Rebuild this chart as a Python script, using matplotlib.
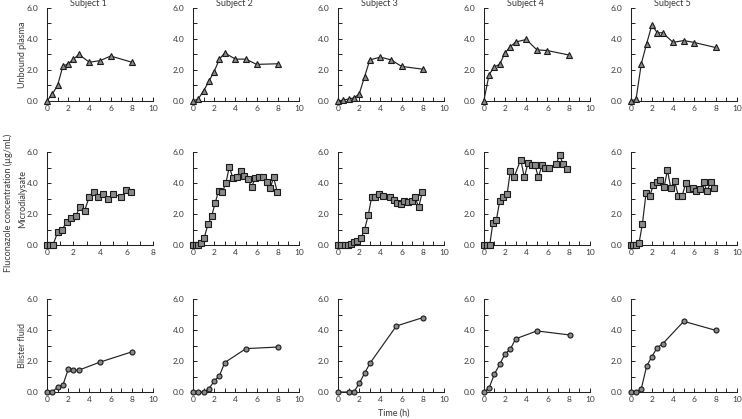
import numpy as np
import matplotlib
matplotlib.use('Agg')
import matplotlib.pyplot as plt

plt.rcParams['font.family'] = ['Lato', 'DejaVu Sans']

## data ##
subjects = ['Subject 1', 'Subject 2', 'Subject 3', 'Subject 4', 'Subject 5']

# unbound plasma
t_plasma = [0, 0.5, 1, 1.5, 2, 2.5, 3, 4, 5, 6, 8]
plasma_s1 = [0, 0.45, 1.0, 2.25, 2.4, 2.7, 3.0, 2.5, 2.6, 2.9, 2.5]
plasma_s2 = [0, 0.13, 0.65, 1.26, 1.9, 2.7, 3.1, 2.7, 2.7, 2.36, 2.4]
plasma_s3 = [0, 0.06, 0.13, 0.2, 0.45, 1.55, 2.65, 2.83, 2.65, 2.23, 2.05]
plasma_s4 = [0, 1.7, 2.2, 2.37, 3.1, 3.5, 3.8, 3.97, 3.3, 3.25, 2.97]
plasma_s5 = [0, 0.1, 2.4, 3.7, 4.9, 4.4, 4.4, 3.78, 3.9, 3.77, 3.45]

# microdialysate
t_md_s1 = [0, 0.22, 0.45, 0.8, 1.14, 1.49, 1.81, 2.16, 2.46, 2.83, 3.18, 3.53, 3.88, 4.22, 4.6, 4.97, 5.6, 5.96, 6.3]
md_s1 = [0, 0, 0, 0.82, 0.99, 1.5, 1.72, 1.85, 2.43, 2.2, 3.1, 3.42, 3.08, 3.29, 2.97, 3.31, 3.1, 3.53, 3.4]
t_md_s2 = [0, 0.25, 0.5, 0.72, 1.07, 1.42, 1.76, 2.1, 2.42, 2.77, 3.1, 3.43, 3.77, 4.12, 4.5, 4.84, 5.19, 5.53, 5.88, 6.23, 6.6, 6.95, 7.3, 7.6, 7.96]
md_s2 = [0, 0, 0, 0.13, 0.49, 1.35, 1.85, 2.73, 3.5, 3.42, 3.98, 5.05, 4.32, 4.41, 4.8, 4.45, 4.24, 3.76, 4.32, 4.37, 4.39, 4.09, 3.7, 4.37, 3.4]
t_md_s3 = [0, 0.31, 0.63, 0.94, 1.22, 1.5, 1.82, 2.16, 2.5, 2.85, 3.17, 3.5, 3.86, 4.2, 4.92, 5.27, 5.6, 5.92, 6.24, 6.58, 6.93, 7.27, 7.6, 7.96]
md_s3 = [0, 0, 0, 0, 0.06, 0.19, 0.28, 0.45, 0.98, 1.93, 3.08, 3.08, 3.27, 3.16, 3.08, 2.9, 2.74, 2.65, 2.87, 2.76, 2.82, 3.1, 2.44, 3.44]
t_md_s4 = [0, 0.28, 0.56, 0.85, 1.19, 1.5, 1.85, 2.2, 2.5, 2.85, 3.48, 3.82, 4.17, 4.5, 4.83, 5.14, 5.49, 5.8, 6.14, 6.83, 7.15, 7.46, 7.8]
md_s4 = [0, 0, 0, 1.41, 1.63, 2.85, 3.13, 3.3, 4.77, 4.37, 5.52, 4.37, 5.29, 5.16, 5.16, 4.37, 5.16, 4.99, 4.99, 5.22, 5.84, 5.22, 4.88]
t_md_s5 = [0, 0.25, 0.5, 0.79, 1.1, 1.45, 1.8, 2.11, 2.46, 2.8, 3.15, 3.46, 3.78, 4.13, 4.5, 4.85, 5.2, 5.51, 5.86, 6.2, 6.55, 6.87, 7.2, 7.53, 7.87]
md_s5 = [0, 0, 0, 0.15, 1.35, 3.37, 3.14, 3.85, 4.06, 4.17, 3.74, 4.84, 3.68, 4.15, 3.14, 3.18, 4.02, 3.63, 3.7, 3.48, 3.63, 4.04, 3.48, 4.06, 3.66]

# blister fluid
t_bf_s1 = [0, 0.5, 1, 1.5, 2, 2.5, 3, 5, 8]
bf_s1 = [0, 0, 0.32, 0.45, 1.46, 1.41, 1.41, 1.93, 2.59]
t_bf_s2 = [0, 0.5, 1, 1.5, 2, 2.5, 3, 5, 8]
bf_s2 = [0, 0, 0, 0.21, 0.7, 1.05, 1.9, 2.8, 2.9]
t_bf_s3 = [0, 1, 1.5, 2, 2.5, 3, 5.5, 8]
bf_s3 = [0, 0, 0, 0.56, 1.2, 1.84, 4.26, 4.8]
t_bf_s4 = [0, 0.5, 1, 1.5, 2, 2.5, 3, 5, 8.1]
bf_s4 = [0, 0.26, 1.16, 1.78, 2.46, 2.76, 3.43, 3.94, 3.68]
t_bf_s5 = [0, 0.5, 1, 1.5, 2, 2.5, 3, 5, 8]
bf_s5 = [0, 0, 0.21, 1.67, 2.29, 2.87, 3.1, 4.56, 3.98]

rows = [
    [(t_plasma, plasma_s1), (t_plasma, plasma_s2), (t_plasma, plasma_s3), (t_plasma, plasma_s4), (t_plasma, plasma_s5)],
    [(t_md_s1, md_s1), (t_md_s2, md_s2), (t_md_s3, md_s3), (t_md_s4, md_s4), (t_md_s5, md_s5)],
    [(t_bf_s1, bf_s1), (t_bf_s2, bf_s2), (t_bf_s3, bf_s3), (t_bf_s4, bf_s4), (t_bf_s5, bf_s5)],
]
markers = ['^', 's', 'o']
msizes = [4.0, 3.8, 3.6]
row_labels = ['Unbound plasma', 'Microdialysate', 'Blister fluid']

## figure ##
fig = plt.figure(figsize=(7.42, 4.19), dpi=100)
txt = '#3a3a3a'
lines = '#222222'

lefts = [0.0633, 0.260, 0.4555, 0.652, 0.850]
bottoms = [0.759, 0.415, 0.0644]
w, h = 0.143, 0.222

for r in range(3):
    for c in range(5):
        ax = fig.add_axes([lefts[c], bottoms[r], w, h])
        t, y = rows[r][c]
        ax.plot(t, y, color=lines, lw=0.85, marker=markers[r], ms=msizes[r],
                mfc='#8a8a8a', mec='#1a1a1a', mew=0.8, clip_on=False, zorder=3)
        # first microdialysate panel only runs to 8 h
        xmax = 8 if (r == 1 and c == 0) else 10
        ax.set_xlim(0, xmax)
        ax.set_ylim(0, 6)
        ax.set_xticks(np.arange(0, xmax + 1, 1))
        ax.set_xticklabels([str(v) if v % 2 == 0 else '' for v in range(0, xmax + 1)])
        ax.set_yticks(np.arange(0, 7, 1))
        ax.set_yticklabels(['%.1f' % v if v % 2 == 0 else '' for v in range(0, 7)])
        ax.spines['top'].set_visible(False)
        ax.spines['right'].set_visible(False)
        for s in ['left', 'bottom']:
            ax.spines[s].set_linewidth(0.75)
            ax.spines[s].set_color(lines)
        ax.tick_params(direction='in', length=3, width=0.7, color=lines,
                       labelsize=6, labelcolor=txt)
        ax.tick_params(axis='y', pad=6)
        ax.tick_params(axis='x', pad=3)
        if r == 0:
            ax.set_title(subjects[c], fontsize=6.5, color=txt, x=0.39, pad=1)

for r in range(3):
    fig.text(0.03, bottoms[r] + h / 2, row_labels[r], rotation=90,
             ha='center', va='center', fontsize=6.5, color=txt)

fig.text(0.011, 0.515, u'Fluconazole concentration (\u00b5g/mL)', rotation=90,
         ha='center', va='center', fontsize=6.5, color=txt)
fig.text(0.53, 0.014, 'Time (h)', ha='center', va='center', fontsize=6.5, color=txt)

plt.savefig('out.png', dpi=100)
